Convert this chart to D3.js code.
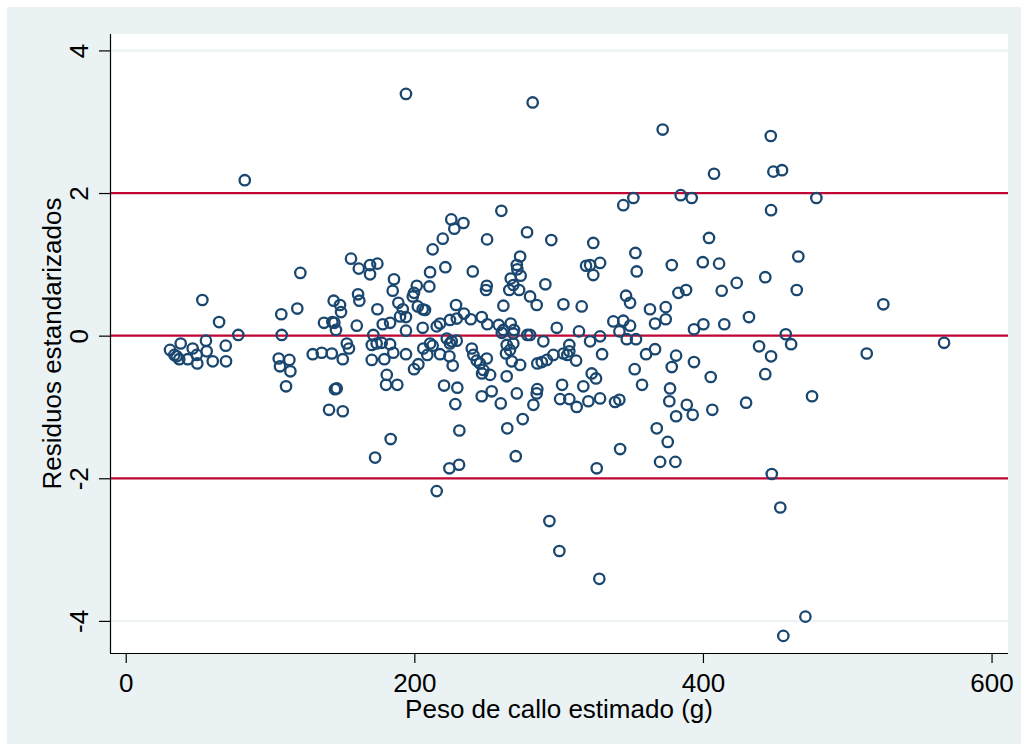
<!DOCTYPE html>
<meta charset="utf-8">
<style>
body {
	margin: 0;
	background-color: #ffffff;
}
text {
	font-family: "Liberation Sans", Arial, sans-serif;
	fill: #000;
}
</style>
<body>
<script src="https://d3js.org/d3.v7.min.js"></script>
<script>
var width = 1028;
var height = 751;

// peso de callo estimado (g)
var pesoEstimado = [
	30.7,33.7,35.3,37.1,38.1,43.0,46.4,49.2,49.6,55.6,56.1,60.3,69.3,69.5,78.0,53.1,64.7,82.5,
	107.8,108.1,106.0,113.4,106.9,114.1,111.1,121.0,118.9,129.6,135.8,142.8,150.4,145.0,146.2,140.9,150.4,153.2,154.7,144.1,148.5,149.2,137.4,143.2,144.6,145.7,156.1,
	260.3,225.6,234.0,227.7,278.1,219.7,250.4,212.7,161.5,169.3,174.4,169.3,221.5,210.9,240.5,273.3,271.0,271.4,273.7,266.8,268.6,265.8,272.6,250.2,249.7,280.2,284.8,
	185.9,185.0,201.7,210.4,199.8,198.9,161.0,161.9,188.9,174.4,192.0,202.4,205.8,207.4,228.9,261.7,190.1,194.2,178.1,183.2,160.1,194.2,205.8,215.5,217.8,224.7,229.4,234.4,239.1,246.7,250.6,258.5,261.7,266.8,269.1,278.3,171.6,
	170.5,173.9,177.4,183.2,185.4,170.5,179.2,194.2,199.8,202.8,206.2,210.9,212.7,209.0,217.8,222.5,225.9,229.4,224.7,224.3,226.6,239.8,240.9,243.2,245.5,250.2,247.8,252.5,246.9,260.6,268.6,264.0,266.3,268.6,263.5,267.5,273.3,264.0,285.2,
	180.9,180.4,188.2,220.6,229.8,228.4,246.7,253.6,259.9,271.0,285.2,284.8,282.5,275.1,264.4,231.2,183.6,172.8,270.3,224.3,231.0,215.5,
	407.7,344.8,351.8,384.6,392.2,294.9,324.0,353.2,404.2,319.0,321.8,328.7,324.0,354.1,378.4,399.9,411.2,290.8,303.3,316.0,346.7,349.5,383.0,388.3,413.0,363.3,374.2,366.8,374.2,337.9,344.8,349.5,342.1,298.7,314.1,393.8,400.3,414.8,
	280.2,289.4,328.7,321.8,347.2,353.6,288.3,291.8,296.3,303.3,307.4,306.0,307.4,312.1,330.1,360.6,366.8,381.4,378.4,393.8,352.7,322.9,325.9,405.4,302.4,317.1,357.8,377.2,301.0,307.4,312.5,320.6,328.7,339.1,342.1,376.7,388.8,392.9,381.4,406.5,368.0,375.6,342.6,370.3,380.9,326.4,
	447.0,448.8,454.8,478.6,447.2,466.1,443.2,423.4,465.0,525.0,431.9,457.4,567.1,438.9,461.1,447.2,513.5,443.2,429.9,475.6,447.7,453.6,471.0,455.7,
	194.2,282.0,372.1,293.6,300.5,328.2
];

// residuos estandarizados, same order
var residuos = [
	-0.20,-0.27,-0.29,-0.33,-0.11,-0.33,-0.18,-0.27,-0.39,-0.07,-0.22,-0.36,-0.14,-0.36,0.01,0.50,0.19,2.18,
	0.30,0.01,-0.32,-0.34,-0.43,-0.50,-0.71,0.88,0.38,-0.26,-0.24,-0.25,-0.33,-0.75,-0.74,-1.04,-1.06,-0.11,-0.18,0.49,0.43,0.33,0.18,0.19,0.18,0.08,1.08,
	1.75,1.63,1.58,1.50,1.45,1.36,1.35,1.21,0.94,0.99,1.01,0.86,0.96,0.89,0.90,1.11,0.99,0.93,0.84,0.80,0.71,0.64,0.64,0.70,0.64,0.55,0.43,
	0.79,0.63,0.70,0.69,0.60,0.55,0.58,0.49,0.46,0.37,0.37,0.41,0.37,0.36,0.43,0.42,0.27,0.26,0.16,0.18,0.14,0.07,0.11,0.13,0.17,0.22,0.24,0.31,0.23,0.26,0.16,0.15,0.08,0.17,0.08,0.01,0.01,
	-0.13,-0.11,-0.10,-0.12,-0.24,-0.34,-0.33,-0.26,-0.47,-0.40,-0.18,-0.11,-0.14,-0.27,-0.26,-0.04,-0.08,-0.07,-0.11,-0.29,-0.42,-0.18,-0.27,-0.35,-0.39,-0.32,-0.48,-0.55,-0.53,0.04,0.03,-0.13,-0.20,-0.11,-0.25,-0.36,-0.41,-0.57,-0.39,
	-0.55,-0.69,-0.69,-0.70,-0.73,-0.96,-0.85,-0.78,-0.95,-0.81,-0.75,-0.81,-0.97,-1.17,-1.30,-1.33,-1.45,-1.71,-1.69,-1.86,-1.81,-2.18,
	2.27,1.83,1.93,1.97,1.93,1.34,1.30,1.16,1.37,0.98,0.99,1.02,0.85,0.90,0.99,1.03,1.01,0.72,0.44,0.41,0.56,0.46,0.60,0.64,0.63,0.37,0.40,0.17,0.23,0.20,0.21,0.14,0.06,0.11,0.06,0.09,0.16,0.16,
	0.01,-0.08,-0.01,-0.08,-0.05,-0.05,-0.37,-0.34,-0.27,-0.25,-0.13,-0.27,-0.22,-0.35,-0.26,-0.26,-0.19,-0.28,-0.44,-0.37,-0.47,-0.53,-0.60,-0.58,-0.69,-0.71,-0.69,-0.74,-0.89,-0.89,-1.00,-0.92,-0.88,-0.93,-0.90,-0.92,-0.97,-1.11,-1.13,-1.04,-1.30,-1.49,-1.59,-1.77,-1.77,-1.86,
	2.80,2.30,2.32,1.93,1.76,1.11,0.82,0.74,0.64,0.44,0.26,0.02,-0.10,-0.15,-0.12,-0.29,-0.25,-0.54,-0.94,-0.85,-1.94,-2.41,-3.94,-4.21,
	3.39,3.27,2.89,-2.60,-3.02,-3.41
];

var xTicks = [0, 200, 400, 600];
var yTicks = [-4, -2, 0, 2, 4];
var refLines = [-2, 0, 2];
var xTitle = 'Peso de callo estimado (g)';
var yTitle = 'Residuos estandarizados';

var navy = '#1a476f';
var cranberry = '#c10534';
var bgBlue = '#eaf2f3';

var plot = {left: 110, top: 34, right: 1008, bottom: 653};

var x = d3.scaleLinear()
	.domain([-10.9, 611.4])
	.range([plot.left, plot.right]);

var y = d3.scaleLinear()
	.domain([-4.45, 4.23])
	.range([plot.bottom, plot.top]);

var svg = d3.select('body')
	.append('svg')
	.attr('width', width)
	.attr('height', height);

// graph region
svg.append('rect')
	.attr('x', 7)
	.attr('y', 7)
	.attr('width', width - 14)
	.attr('height', height - 14)
	.style('fill', bgBlue);

// plot region
svg.append('rect')
	.attr('x', plot.left)
	.attr('y', plot.top)
	.attr('width', plot.right - plot.left)
	.attr('height', plot.bottom - plot.top)
	.style('fill', '#fff');

// grid lines
svg.append('g')
	.selectAll('line')
	.data(yTicks)
	.enter()
	.append('line')
	.attr('x1', plot.left)
	.attr('x2', plot.right)
	.attr('y1', function(d) { return y(d); })
	.attr('y2', function(d) { return y(d); })
	.style('stroke', bgBlue)
	.style('stroke-width', 2);

// reference lines at -2, 0, 2
svg.append('g')
	.selectAll('line')
	.data(refLines)
	.enter()
	.append('line')
	.attr('x1', plot.left)
	.attr('x2', plot.right)
	.attr('y1', function(d) { return y(d); })
	.attr('y2', function(d) { return y(d); })
	.style('stroke', cranberry)
	.style('stroke-width', 2.2);

// axes (plain hyphen for negatives, like the original)
var xAxis = d3.axisBottom(x)
	.tickValues(xTicks)
	.tickFormat(function(d) { return String(d); })
	.tickSize(10);

var yAxis = d3.axisLeft(y)
	.tickValues(yTicks)
	.tickFormat(function(d) { return String(d); })
	.tickSize(11);

var gx = svg.append('g')
	.attr('transform', 'translate(0,' + plot.bottom + ')')
	.call(xAxis);

var gy = svg.append('g')
	.attr('transform', 'translate(' + plot.left + ',0)')
	.call(yAxis);

gx.select('.domain').attr('d', 'M' + plot.left + ',0.5H' + plot.right);
gy.select('.domain').attr('d', 'M0.5,' + plot.top + 'V' + plot.bottom);

svg.selectAll('.domain, .tick line')
	.style('stroke', '#000')
	.style('stroke-width', 1.2);

svg.selectAll('.tick text')
	.style('font-size', '26px')
	.style('font-family', '"Liberation Sans", Arial, sans-serif');

gx.selectAll('.tick text')
	.attr('dy', null)
	.attr('y', 39);

// y labels are turned like Stata does it
gy.selectAll('.tick text')
	.attr('x', null)
	.attr('y', null)
	.attr('dy', null)
	.attr('text-anchor', 'middle')
	.attr('transform', 'translate(-22,0) rotate(-90)');

// data points
svg.append('g')
	.selectAll('circle')
	.data(pesoEstimado)
	.enter()
	.append('circle')
	.attr('cx', function(d) { return x(d); })
	.attr('cy', function(d, i) { return y(residuos[i]); })
	.attr('r', 5.2)
	.style('fill', 'none')
	.style('stroke', navy)
	.style('stroke-width', 2.3);

// titles
svg.append('text')
	.attr('x', (plot.left + plot.right) / 2)
	.attr('y', 718)
	.attr('text-anchor', 'middle')
	.style('font-size', '26px')
	.text(xTitle);

svg.append('text')
	.attr('transform', 'translate(61,' + (plot.top + plot.bottom) / 2 + ') rotate(-90)')
	.attr('text-anchor', 'middle')
	.style('font-size', '26px')
	.text(yTitle);
</script>
</body>
